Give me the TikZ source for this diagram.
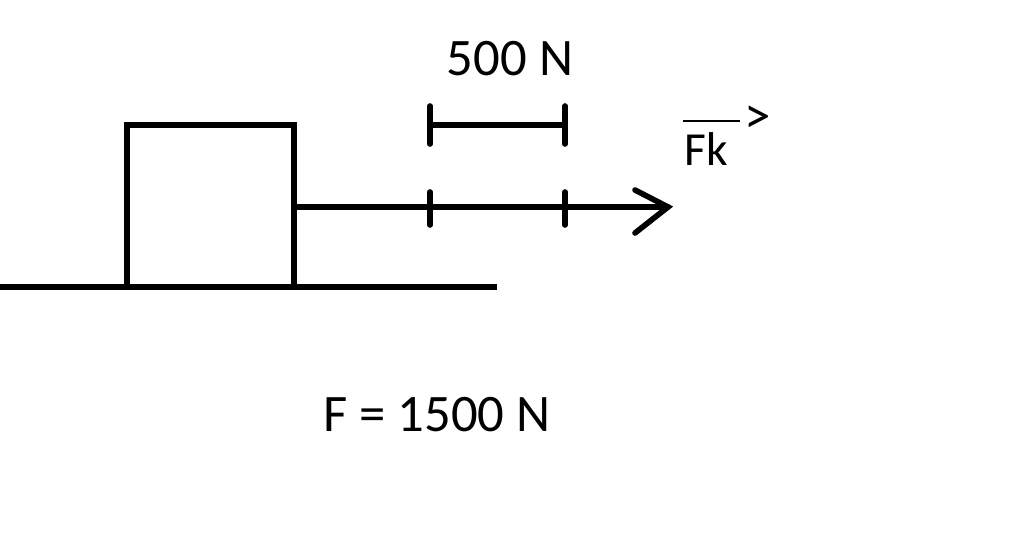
\documentclass[tikz,border=0pt]{standalone}
\usepackage{fontspec}
\setmainfont{Carlito}
\begin{document}
\begin{tikzpicture}[x=0.02cm, y=-0.02cm, line width=3.2pt, line cap=round,
    lbl/.style={inner sep=0pt, font=\fontsize{30}{36}\selectfont}]
      \useasboundingbox (0,0) rectangle (1024,538);
      % ground and box
      \draw[line cap=butt] (0,287) -- (497,287);
      \draw (127,287) -- (127,125) -- (294,125) -- (294,287);
      % force arrow
      \coordinate (start) at (294,207);
      \coordinate (tip) at (668,207);
      \draw (start) -- (tip);
      \draw (635,190) -- (tip) -- (635,233);
      \foreach \x in {430,565} \draw (\x,192) -- (\x,225);
      % scale bar
      \draw (430,125) -- (565,125);
      \foreach \x in {430,565} \draw (\x,106) -- (\x,144);
      \node[lbl] (unit) at (510,59) {500 N};
      \node[lbl] (total) at (437,415) {F = 1500 N};
      \node[lbl, font=\fontsize{27}{32}\selectfont] (fk) at (706,149) {Fk};
      \draw[line width=1pt, line cap=butt] (683,121) -- (740,121);
      \node[lbl, font=\fontsize{30}{34}\selectfont] (vec) at (758,120) {>};
    \end{tikzpicture}
\end{document}
